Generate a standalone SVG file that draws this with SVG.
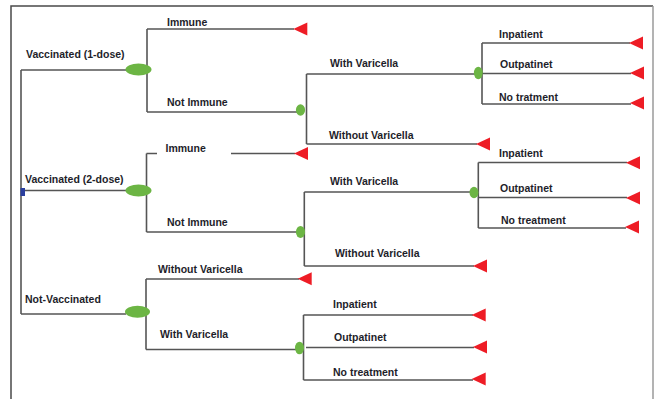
<svg xmlns="http://www.w3.org/2000/svg" xmlns:xlink="http://www.w3.org/1999/xlink" width="657" height="399" viewBox="0 0 657 399">
  <style>
    .frame { fill: none; stroke: #4a4a4a; stroke-width: 1.5; }
    .frame-r { fill: none; stroke: #9a9a9a; stroke-width: 1.5; }
    .edge { fill: none; stroke: #555555; stroke-width: 1.6; }
    .decision { fill: #6cb544; }
    .chance { fill: #6cb544; }
    .terminal { fill: #ee1c25; }
    .root { fill: #2b3f9e; }
    .lbl { font-family: "Liberation Sans", Arial, sans-serif; font-weight: bold; font-size: 10.5px; fill: #1e1e2a; }
    .mask { fill: #ffffff; }
  </style>
  <defs>
    <path id="tri" d="M0 0 L14 -6.5 L14 6.5 Z"/>
  </defs>

  <rect width="657" height="399" fill="#ffffff"/>

  <!-- outer frame (open at the bottom) -->
  <path class="frame" d="M11 399 V6 H653"/>
  <path class="frame-r" d="M653 6 V399"/>

  <!-- connectors -->
  <g id="connectors">
    <!-- root -->
    <path class="edge" d="M21 70 V314"/>
    <path class="edge" d="M21 70 H127"/>
    <path class="edge" d="M21 190.5 H127"/>
    <path class="edge" d="M21 314 H126"/>
    <!-- vaccinated 1-dose -->
    <path class="edge" d="M147 29 V112"/>
    <path class="edge" d="M147 29 H294"/>
    <path class="edge" d="M147 112 H297"/>
    <path class="edge" d="M306.5 74 V144"/>
    <path class="edge" d="M306.5 74 H475"/>
    <path class="edge" d="M306.5 144 H477"/>
    <path class="edge" d="M482 43 V104"/>
    <path class="edge" d="M482 43 H630"/>
    <path class="edge" d="M482 73.5 H631"/>
    <path class="edge" d="M482 104 H631"/>
    <!-- vaccinated 2-dose -->
    <path class="edge" d="M146.5 153.5 V232"/>
    <path class="edge" d="M146.5 153.5 H295"/>
    <path class="edge" d="M146.5 232 H297"/>
    <path class="edge" d="M304.3 192 V266"/>
    <path class="edge" d="M304.3 192 H471"/>
    <path class="edge" d="M304.3 266 H474"/>
    <path class="edge" d="M478.3 162.5 V228"/>
    <path class="edge" d="M478.3 162.5 H627"/>
    <path class="edge" d="M478.3 197.5 H627"/>
    <path class="edge" d="M478.3 228 H626"/>
    <!-- not vaccinated -->
    <path class="edge" d="M146 279 V349.5"/>
    <path class="edge" d="M146 279 H299"/>
    <path class="edge" d="M146 349.5 H296"/>
    <path class="edge" d="M303.5 315 V380"/>
    <path class="edge" d="M303.5 315 H473"/>
    <path class="edge" d="M306 347.5 H474"/>
    <path class="edge" d="M303.5 380 H473"/>
  </g>

  <!-- root node -->
  <g id="root">
    <rect class="root" x="20.5" y="188" width="4.5" height="8"/>
  </g>

  <!-- decision nodes -->
  <g id="d-vacc1"><ellipse class="decision" cx="138.5" cy="69.5" rx="13" ry="6"/></g>
  <g id="d-vacc2"><ellipse class="decision" cx="138.5" cy="190.5" rx="13" ry="6"/></g>
  <g id="d-novacc"><ellipse class="decision" cx="137.5" cy="311.7" rx="12.5" ry="6"/></g>

  <!-- chance nodes -->
  <g id="c-v1-notimmune"><ellipse class="chance" cx="300.5" cy="110" rx="4.6" ry="5.8"/></g>
  <g id="c-v1-varicella"><ellipse class="chance" cx="478.3" cy="73" rx="4.4" ry="6.2"/></g>
  <g id="c-v2-notimmune"><ellipse class="chance" cx="300.5" cy="232" rx="4.6" ry="6"/></g>
  <g id="c-v2-varicella"><ellipse class="chance" cx="474" cy="192.5" rx="4.5" ry="5.8"/></g>
  <g id="c-nv-varicella"><ellipse class="chance" cx="299.5" cy="348" rx="4.5" ry="6.3"/></g>

  <!-- terminal nodes -->
  <g id="t-v1-immune"><use class="terminal" xlink:href="#tri" transform="translate(293.3 29)"/></g>
  <g id="t-v1-novar"><use class="terminal" xlink:href="#tri" transform="translate(476 144)"/></g>
  <g id="t-v1-inpatient"><use class="terminal" xlink:href="#tri" transform="translate(629 43)"/></g>
  <g id="t-v1-outpatient"><use class="terminal" xlink:href="#tri" transform="translate(630 73)"/></g>
  <g id="t-v1-notreat"><use class="terminal" xlink:href="#tri" transform="translate(630 103)"/></g>
  <g id="t-v2-immune"><use class="terminal" xlink:href="#tri" transform="translate(294 153.5)"/></g>
  <g id="t-v2-novar"><use class="terminal" xlink:href="#tri" transform="translate(473 266)"/></g>
  <g id="t-v2-inpatient"><use class="terminal" xlink:href="#tri" transform="translate(626 162.7)"/></g>
  <g id="t-v2-outpatient"><use class="terminal" xlink:href="#tri" transform="translate(626 198)"/></g>
  <g id="t-v2-notreat"><use class="terminal" xlink:href="#tri" transform="translate(625 227)"/></g>
  <g id="t-nv-novar"><use class="terminal" xlink:href="#tri" transform="translate(297.7 278.7)"/></g>
  <g id="t-nv-inpatient"><use class="terminal" xlink:href="#tri" transform="translate(471.7 315)"/></g>
  <g id="t-nv-outpatient"><use class="terminal" xlink:href="#tri" transform="translate(473 347)"/></g>
  <g id="t-nv-notreat"><use class="terminal" xlink:href="#tri" transform="translate(471.7 379)"/></g>

  <!-- branch labels -->
  <g id="labels">
    <text class="lbl" x="26" y="58">Vaccinated (1-dose)</text>
    <text class="lbl" x="167" y="26">Immune</text>
    <text class="lbl" x="167" y="105.5">Not Immune</text>
    <text class="lbl" x="330" y="67">With Varicella</text>
    <text class="lbl" x="329" y="138.5">Without Varicella</text>
    <text class="lbl" x="499" y="37.5">Inpatient</text>
    <text class="lbl" x="500" y="68">Outpatinet</text>
    <text class="lbl" x="499" y="101">No tratment</text>

    <rect class="mask" x="157" y="140" width="74" height="18"/>
    <text class="lbl" x="165.5" y="152">Immune</text>
    <text class="lbl" x="25" y="182.5">Vaccinated (2-dose)</text>
    <text class="lbl" x="167" y="226">Not Immune</text>
    <text class="lbl" x="330" y="185">With Varicella</text>
    <text class="lbl" x="335" y="256.5">Without Varicella</text>
    <text class="lbl" x="499" y="157">Inpatient</text>
    <text class="lbl" x="500" y="192">Outpatinet</text>
    <text class="lbl" x="501" y="223.5">No treatment</text>

    <text class="lbl" x="25" y="303">Not-Vaccinated</text>
    <text class="lbl" x="158" y="272.5">Without Varicella</text>
    <text class="lbl" x="160" y="337.5">With Varicella</text>
    <text class="lbl" x="333" y="308">Inpatient</text>
    <text class="lbl" x="334" y="341">Outpatinet</text>
    <text class="lbl" x="333" y="376">No treatment</text>
  </g>
</svg>
